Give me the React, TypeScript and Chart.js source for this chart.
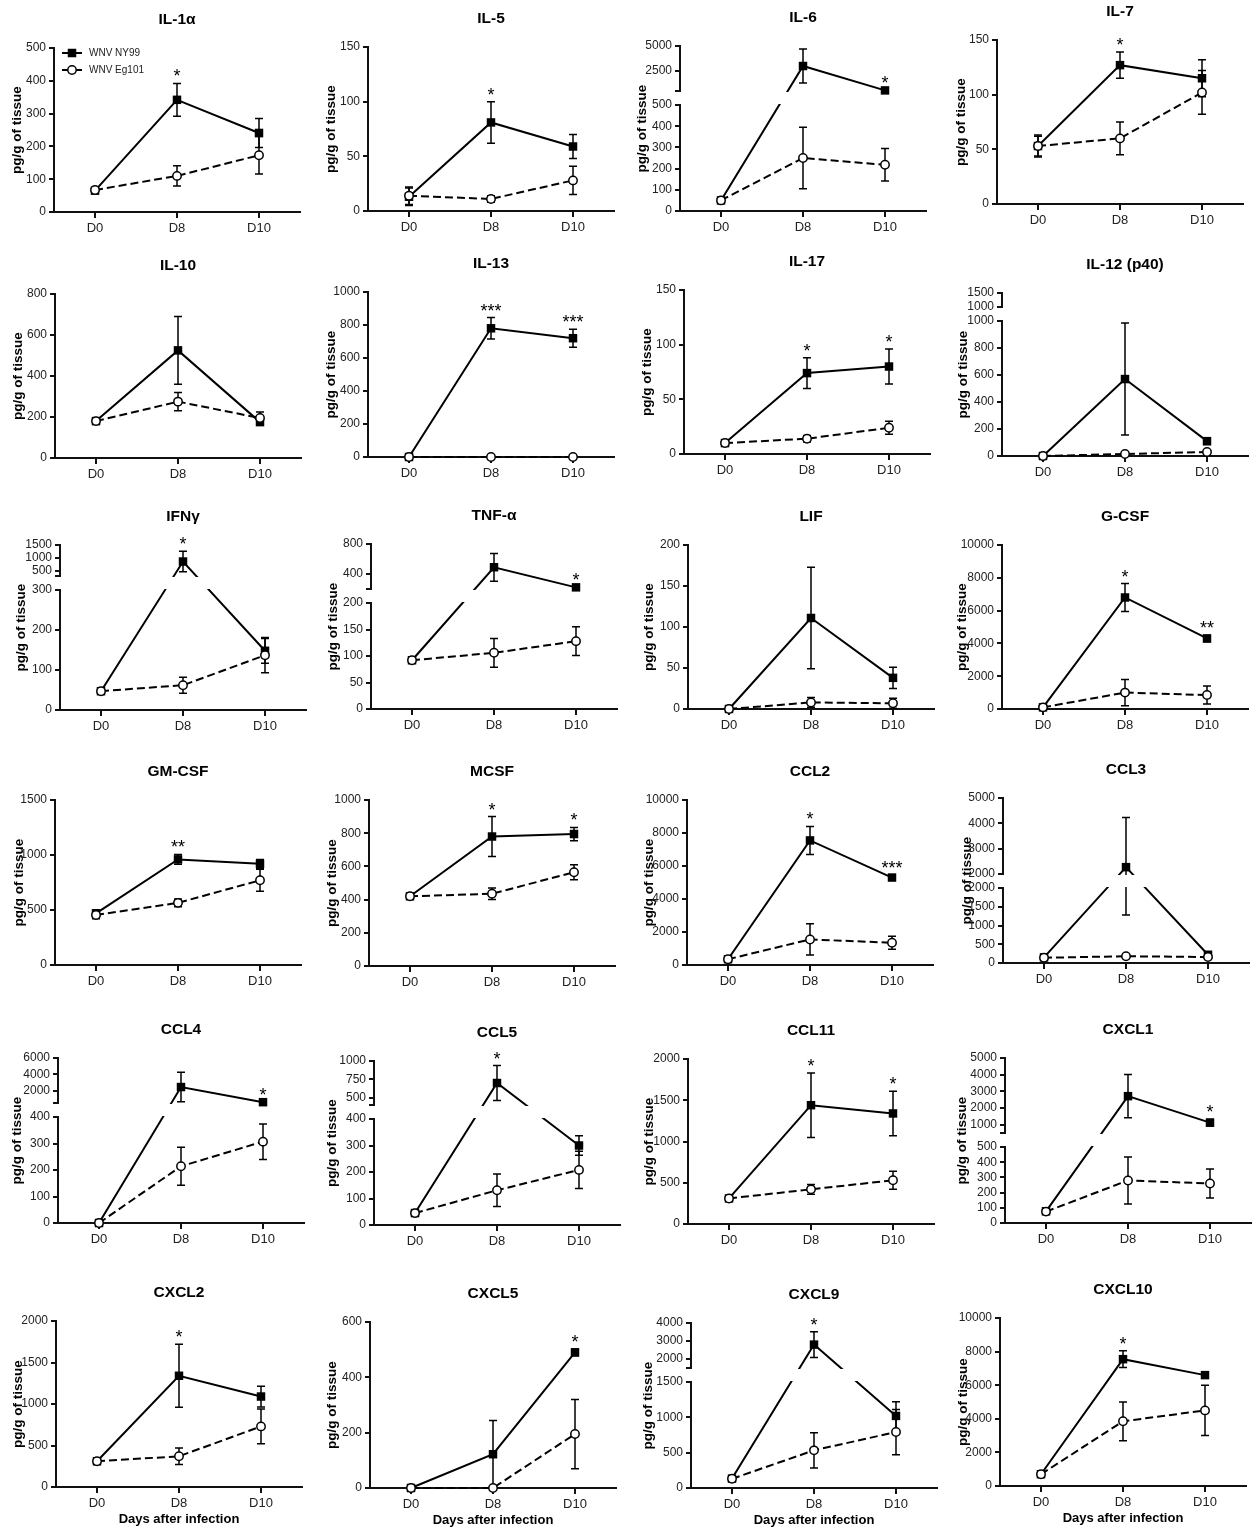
import React, { useEffect, useRef } from "react";
import { Chart, registerables } from "chart.js";

Chart.register(...registerables);

const FONT = "'Liberation Sans', Arial, Helvetica, sans-serif";
Chart.defaults.font.family = FONT;

const DAYS = ["D0", "D8", "D10"];
const SERIES_NAMES = ["WNV NY99", "WNV Eg101"];

type Err = number | [number, number];

// ---- data (mean, SEM) ----
const IL1A_NY = [65, 342, 241];
const IL1A_NY_ERR: Err[] = [4, 50, 44];
const IL1A_EG = [67, 110, 173];
const IL1A_EG_ERR: Err[] = [4, 31, 57];
const IL1A_SIG = ["", "*", ""];

const IL5_NY = [13, 81, 59];
const IL5_NY_ERR: Err[] = [8, 19, 11];
const IL5_EG = [14, 11, 28];
const IL5_EG_ERR: Err[] = [8, 3, 13];
const IL5_SIG = ["", "*", ""];

const IL6_NY = [50, 3000, 560];
const IL6_NY_ERR: Err[] = [5, 1700, 40];
const IL6_EG = [50, 250, 218];
const IL6_EG_ERR: Err[] = [5, 145, 77];
const IL6_SIG = ["", "", "*"];

const IL7_NY = [53, 127, 115];
const IL7_NY_ERR: Err[] = [9, 12, 17];
const IL7_EG = [53, 60, 102];
const IL7_EG_ERR: Err[] = [10, 15, 20];
const IL7_SIG = ["", "*", ""];

const IL10_NY = [180, 525, 175];
const IL10_NY_ERR: Err[] = [8, 165, 12];
const IL10_EG = [180, 275, 195];
const IL10_EG_ERR: Err[] = [8, 45, 30];
const IL10_SIG = ["", "", ""];

const IL13_NY = [0, 780, 720];
const IL13_NY_ERR: Err[] = [0, 65, 55];
const IL13_EG = [0, 0, 0];
const IL13_EG_ERR: Err[] = [0, 0, 0];
const IL13_SIG = ["", "***", "***"];

const IL17_NY = [10, 74, 80];
const IL17_NY_ERR: Err[] = [2, 14, 16];
const IL17_EG = [10, 14, 24];
const IL17_EG_ERR: Err[] = [2, 3, 6];
const IL17_SIG = ["", "*", "*"];

const IL12_NY = [0, 570, 110];
const IL12_NY_ERR: Err[] = [0, 415, 25];
const IL12_EG = [0, 15, 30];
const IL12_EG_ERR: Err[] = [0, 5, 12];
const IL12_SIG = ["", "", ""];

const IFNG_NY = [47, 860, 148];
const IFNG_NY_ERR: Err[] = [3, 400, 31];
const IFNG_EG = [47, 62, 137];
const IFNG_EG_ERR: Err[] = [4, 20, 44];
const IFNG_SIG = ["", "*", ""];

const TNFA_NY = [92, 490, 222];
const TNFA_NY_ERR: Err[] = [3, 185, 10];
const TNFA_EG = [92, 106, 128];
const TNFA_EG_ERR: Err[] = [4, 27, 27];
const TNFA_SIG = ["", "", "*"];

const LIF_NY = [0, 111, 38];
const LIF_NY_ERR: Err[] = [0, 62, 13];
const LIF_EG = [0, 8, 7];
const LIF_EG_ERR: Err[] = [0, 6, 6];
const LIF_SIG = ["", "", ""];

const GCSF_NY = [100, 6800, 4300];
const GCSF_NY_ERR: Err[] = [40, 850, 200];
const GCSF_EG = [100, 1000, 850];
const GCSF_EG_ERR: Err[] = [40, 800, 550];
const GCSF_SIG = ["", "*", "**"];

const GMCSF_NY = [470, 960, 920];
const GMCSF_NY_ERR: Err[] = [30, 45, 40];
const GMCSF_EG = [455, 565, 770];
const GMCSF_EG_ERR: Err[] = [35, 35, 100];
const GMCSF_SIG = ["", "**", ""];

const MCSF_NY = [420, 780, 795];
const MCSF_NY_ERR: Err[] = [10, 120, 40];
const MCSF_EG = [420, 435, 565];
const MCSF_EG_ERR: Err[] = [10, 35, 45];
const MCSF_SIG = ["", "*", "*"];

const CCL2_NY = [350, 7550, 5300];
const CCL2_NY_ERR: Err[] = [80, 850, 150];
const CCL2_EG = [350, 1550, 1350];
const CCL2_EG_ERR: Err[] = [80, 950, 400];
const CCL2_SIG = ["", "*", "***"];

const CCL3_NY = [150, 2270, 220];
const CCL3_NY_ERR: Err[] = [20, [990, 1960], 30];
const CCL3_EG = [140, 180, 160];
const CCL3_EG_ERR: Err[] = [20, 30, 20];
const CCL3_SIG = ["", "", ""];

const CCL4_NY = [0, 2450, 600];
const CCL4_NY_ERR: Err[] = [0, 1800, 60];
const CCL4_EG = [0, 214, 307];
const CCL4_EG_ERR: Err[] = [0, 72, 67];
const CCL4_SIG = ["", "", "*"];

const CCL5_NY = [45, 700, 300];
const CCL5_NY_ERR: Err[] = [5, 238, 37];
const CCL5_EG = [45, 131, 208];
const CCL5_EG_ERR: Err[] = [5, 61, 70];
const CCL5_SIG = ["", "*", ""];

const CCL11_NY = [310, 1440, 1340];
const CCL11_NY_ERR: Err[] = [20, 390, 270];
const CCL11_EG = [310, 420, 530];
const CCL11_EG_ERR: Err[] = [20, 60, 110];
const CCL11_SIG = ["", "*", "*"];

const CXCL1_NY = [77, 2710, 1120];
const CXCL1_NY_ERR: Err[] = [10, 1300, 200];
const CXCL1_EG = [75, 280, 260];
const CXCL1_EG_ERR: Err[] = [10, 155, 95];
const CXCL1_SIG = ["", "", "*"];

const CXCL2_NY = [310, 1340, 1090];
const CXCL2_NY_ERR: Err[] = [20, 380, 125];
const CXCL2_EG = [310, 370, 730];
const CXCL2_EG_ERR: Err[] = [25, 100, 210];
const CXCL2_SIG = ["", "*", ""];

const CXCL5_NY = [0, 122, 490];
const CXCL5_NY_ERR: Err[] = [0, 122, 12];
const CXCL5_EG = [0, 0, 195];
const CXCL5_EG_ERR: Err[] = [0, 0, 125];
const CXCL5_SIG = ["", "", "*"];

const CXCL9_NY = [133, 2800, 1020];
const CXCL9_NY_ERR: Err[] = [15, 720, 200];
const CXCL9_EG = [130, 533, 792];
const CXCL9_EG_ERR: Err[] = [15, 250, 320];
const CXCL9_SIG = ["", "*", ""];

const CXCL10_NY = [700, 7550, 6600];
const CXCL10_NY_ERR: Err[] = [80, 500, 120];
const CXCL10_EG = [700, 3850, 4500];
const CXCL10_EG_ERR: Err[] = [80, 1150, 1500];
const CXCL10_SIG = ["", "*", ""];

// ---- panel layout ----
const GAP = 14;
const PLOT_W = 248;
const PAD_TOP = 46;

type Brk = { lowMax: number; lowStep: number; upMin: number; upMax: number; upTicks: number[]; upH: number };
type Panel = {
  title: string;
  ny: number[]; nyErr: Err[]; eg: number[]; egErr: Err[]; sig: string[];
  axisX: number; top: number; zero: number; titleX: number;
  yMax?: number; step?: number; brk?: Brk; legend?: boolean; xTitle?: boolean;
};

const PANELS: Panel[] = [
  { title: "IL-1α", ny: IL1A_NY, nyErr: IL1A_NY_ERR, eg: IL1A_EG, egErr: IL1A_EG_ERR, sig: IL1A_SIG, axisX: 54, top: 48, zero: 212, titleX: 17, yMax: 500, step: 100, legend: true },
  { title: "IL-5", ny: IL5_NY, nyErr: IL5_NY_ERR, eg: IL5_EG, egErr: IL5_EG_ERR, sig: IL5_SIG, axisX: 368, top: 47, zero: 211, titleX: 331, yMax: 150, step: 50 },
  { title: "IL-6", ny: IL6_NY, nyErr: IL6_NY_ERR, eg: IL6_EG, egErr: IL6_EG_ERR, sig: IL6_SIG, axisX: 680, top: 46, zero: 211, titleX: 642, brk: { lowMax: 500, lowStep: 100, upMin: 500, upMax: 5000, upTicks: [2500, 5000], upH: 45 } },
  { title: "IL-7", ny: IL7_NY, nyErr: IL7_NY_ERR, eg: IL7_EG, egErr: IL7_EG_ERR, sig: IL7_SIG, axisX: 997, top: 40, zero: 204, titleX: 961, yMax: 150, step: 50 },

  { title: "IL-10", ny: IL10_NY, nyErr: IL10_NY_ERR, eg: IL10_EG, egErr: IL10_EG_ERR, sig: IL10_SIG, axisX: 55, top: 294, zero: 458, titleX: 18, yMax: 800, step: 200 },
  { title: "IL-13", ny: IL13_NY, nyErr: IL13_NY_ERR, eg: IL13_EG, egErr: IL13_EG_ERR, sig: IL13_SIG, axisX: 368, top: 292, zero: 457, titleX: 331, yMax: 1000, step: 200 },
  { title: "IL-17", ny: IL17_NY, nyErr: IL17_NY_ERR, eg: IL17_EG, egErr: IL17_EG_ERR, sig: IL17_SIG, axisX: 684, top: 290, zero: 454, titleX: 647, yMax: 150, step: 50 },
  { title: "IL-12 (p40)", ny: IL12_NY, nyErr: IL12_NY_ERR, eg: IL12_EG, egErr: IL12_EG_ERR, sig: IL12_SIG, axisX: 1002, top: 293, zero: 456, titleX: 963, brk: { lowMax: 1000, lowStep: 200, upMin: 1000, upMax: 1500, upTicks: [1000, 1500], upH: 14 } },

  { title: "IFNγ", ny: IFNG_NY, nyErr: IFNG_NY_ERR, eg: IFNG_EG, egErr: IFNG_EG_ERR, sig: IFNG_SIG, axisX: 60, top: 545, zero: 710, titleX: 21, brk: { lowMax: 300, lowStep: 100, upMin: 300, upMax: 1500, upTicks: [500, 1000, 1500], upH: 31 } },
  { title: "TNF-α", ny: TNFA_NY, nyErr: TNFA_NY_ERR, eg: TNFA_EG, egErr: TNFA_EG_ERR, sig: TNFA_SIG, axisX: 371, top: 544, zero: 709, titleX: 333, brk: { lowMax: 200, lowStep: 50, upMin: 200, upMax: 800, upTicks: [400, 800], upH: 45 } },
  { title: "LIF", ny: LIF_NY, nyErr: LIF_NY_ERR, eg: LIF_EG, egErr: LIF_EG_ERR, sig: LIF_SIG, axisX: 688, top: 545, zero: 709, titleX: 649, yMax: 200, step: 50 },
  { title: "G-CSF", ny: GCSF_NY, nyErr: GCSF_NY_ERR, eg: GCSF_EG, egErr: GCSF_EG_ERR, sig: GCSF_SIG, axisX: 1002, top: 545, zero: 709, titleX: 962, yMax: 10000, step: 2000 },

  { title: "GM-CSF", ny: GMCSF_NY, nyErr: GMCSF_NY_ERR, eg: GMCSF_EG, egErr: GMCSF_EG_ERR, sig: GMCSF_SIG, axisX: 55, top: 800, zero: 965, titleX: 19, yMax: 1500, step: 500 },
  { title: "MCSF", ny: MCSF_NY, nyErr: MCSF_NY_ERR, eg: MCSF_EG, egErr: MCSF_EG_ERR, sig: MCSF_SIG, axisX: 369, top: 800, zero: 966, titleX: 332, yMax: 1000, step: 200 },
  { title: "CCL2", ny: CCL2_NY, nyErr: CCL2_NY_ERR, eg: CCL2_EG, egErr: CCL2_EG_ERR, sig: CCL2_SIG, axisX: 687, top: 800, zero: 965, titleX: 649, yMax: 10000, step: 2000 },
  { title: "CCL3", ny: CCL3_NY, nyErr: CCL3_NY_ERR, eg: CCL3_EG, egErr: CCL3_EG_ERR, sig: CCL3_SIG, axisX: 1003, top: 798, zero: 963, titleX: 967, brk: { lowMax: 2000, lowStep: 500, upMin: 2000, upMax: 5000, upTicks: [2000, 3000, 4000, 5000], upH: 76 } },

  { title: "CCL4", ny: CCL4_NY, nyErr: CCL4_NY_ERR, eg: CCL4_EG, egErr: CCL4_EG_ERR, sig: CCL4_SIG, axisX: 58, top: 1058, zero: 1223, titleX: 17, brk: { lowMax: 400, lowStep: 100, upMin: 500, upMax: 6000, upTicks: [2000, 4000, 6000], upH: 45 } },
  { title: "CCL5", ny: CCL5_NY, nyErr: CCL5_NY_ERR, eg: CCL5_EG, egErr: CCL5_EG_ERR, sig: CCL5_SIG, axisX: 374, top: 1061, zero: 1225, titleX: 332, brk: { lowMax: 400, lowStep: 100, upMin: 400, upMax: 1000, upTicks: [500, 750, 1000], upH: 44 } },
  { title: "CCL11", ny: CCL11_NY, nyErr: CCL11_NY_ERR, eg: CCL11_EG, egErr: CCL11_EG_ERR, sig: CCL11_SIG, axisX: 688, top: 1059, zero: 1224, titleX: 649, yMax: 2000, step: 500 },
  { title: "CXCL1", ny: CXCL1_NY, nyErr: CXCL1_NY_ERR, eg: CXCL1_EG, egErr: CXCL1_EG_ERR, sig: CXCL1_SIG, axisX: 1005, top: 1058, zero: 1223, titleX: 962, brk: { lowMax: 500, lowStep: 100, upMin: 500, upMax: 5000, upTicks: [1000, 2000, 3000, 4000, 5000], upH: 75 } },

  { title: "CXCL2", ny: CXCL2_NY, nyErr: CXCL2_NY_ERR, eg: CXCL2_EG, egErr: CXCL2_EG_ERR, sig: CXCL2_SIG, axisX: 56, top: 1321, zero: 1487, titleX: 18, yMax: 2000, step: 500, xTitle: true },
  { title: "CXCL5", ny: CXCL5_NY, nyErr: CXCL5_NY_ERR, eg: CXCL5_EG, egErr: CXCL5_EG_ERR, sig: CXCL5_SIG, axisX: 370, top: 1322, zero: 1488, titleX: 332, yMax: 600, step: 200, xTitle: true },
  { title: "CXCL9", ny: CXCL9_NY, nyErr: CXCL9_NY_ERR, eg: CXCL9_EG, egErr: CXCL9_EG_ERR, sig: CXCL9_SIG, axisX: 691, top: 1323, zero: 1488, titleX: 648, brk: { lowMax: 1500, lowStep: 500, upMin: 1500, upMax: 4000, upTicks: [2000, 3000, 4000], upH: 45 }, xTitle: true },
  { title: "CXCL10", ny: CXCL10_NY, nyErr: CXCL10_NY_ERR, eg: CXCL10_EG, egErr: CXCL10_EG_ERR, sig: CXCL10_SIG, axisX: 1000, top: 1318, zero: 1486, titleX: 963, yMax: 10000, step: 2000, xTitle: true },
];

function errParts(e: Err): [number, number] {
  return Array.isArray(e) ? e : [e, e];
}

function PanelChart({ p }: { p: Panel }) {
  const ref = useRef<HTMLCanvasElement | null>(null);
  const xH = p.xTitle ? 40 : 28;
  const yW = p.axisX - p.titleX + 12;
  const plotH = p.zero - p.top;
  const W = yW + PLOT_W + 4;
  const H = PAD_TOP + plotH + xH;

  useEffect(() => {
    if (!ref.current) return;
    const b = p.brk;
    const lowH = b ? plotH - b.upH - GAP : plotH;
    const tf = (v: number): number => {
      if (!b) return v;
      if (v <= b.lowMax) return (v / b.lowMax) * lowH;
      if (v < b.upMin) return lowH + ((v - b.lowMax) / (b.upMin - b.lowMax)) * GAP;
      return lowH + GAP + ((v - b.upMin) / (b.upMax - b.upMin)) * b.upH;
    };
    const brkTicks: { d: number; label: string }[] = [];
    if (b) {
      for (let v = 0; v <= b.lowMax + 1e-9; v += b.lowStep) brkTicks.push({ d: (v / b.lowMax) * lowH, label: String(v) });
      if (!b.upTicks.includes(b.upMin)) brkTicks.push({ d: lowH + GAP, label: "" });
      b.upTicks.forEach((u) => brkTicks.push({ d: lowH + GAP + ((u - b.upMin) / (b.upMax - b.upMin)) * b.upH, label: String(u) }));
    }

    const deco = {
      id: "deco",
      beforeDatasetDraw(chart: any, args: any) {
        if (args.index !== 1) return;
        const ctx = chart.ctx;
        const xs = chart.scales.x;
        const ys = chart.scales.y;
        ctx.save();
        ctx.strokeStyle = "#000";
        ctx.lineWidth = 1.5;
        const sets: [number[], Err[]][] = [[p.ny, p.nyErr], [p.eg, p.egErr]];
        sets.forEach(([m, e]) => {
          m.forEach((mean, i) => {
            const [dn, up] = errParts(e[i]);
            if (dn === 0 && up === 0) return;
            const x = xs.getPixelForValue(i);
            const yT = ys.getPixelForValue(tf(mean + up));
            const yB = ys.getPixelForValue(tf(Math.max(0, mean - dn)));
            ctx.beginPath();
            ctx.moveTo(x, yT);
            ctx.lineTo(x, yB);
            ctx.moveTo(x - 4, yT);
            ctx.lineTo(x + 4, yT);
            if (mean - dn > 0) {
              ctx.moveTo(x - 4, yB);
              ctx.lineTo(x + 4, yB);
            }
            ctx.stroke();
          });
        });
        if (b) {
          const ca = chart.chartArea;
          const yL = Math.round(ys.getPixelForValue(lowH));
          const yU = Math.round(ys.getPixelForValue(lowH + GAP));
          ctx.fillStyle = "#fff";
          ctx.fillRect(ca.left - 3, yU + 1, ca.right - ca.left + 6, yL - yU - 2);
        }
        ctx.restore();
      },
      afterDraw(chart: any) {
        const ctx = chart.ctx;
        const ca = chart.chartArea;
        const xs = chart.scales.x;
        const ys = chart.scales.y;
        ctx.save();
        ctx.fillStyle = "#000";
        ctx.textAlign = "center";
        ctx.textBaseline = "middle";
        ctx.font = `bold 15.5px ${FONT}`;
        ctx.fillText(p.title, (ca.left + ca.right) / 2, ca.top - 28);
        ctx.font = `18px ${FONT}`;
        ctx.textBaseline = "alphabetic";
        p.sig.forEach((s, i) => {
          if (!s) return;
          const [, up] = errParts(p.nyErr[i]);
          const y = ys.getPixelForValue(tf(p.ny[i] + up));
          ctx.fillText(s, xs.getPixelForValue(i), y - 1);
        });
        if (p.legend) {
          const lx = ca.left + 8;
          const rows = [ca.top + 5, ca.top + 22];
          ctx.font = `10px ${FONT}`;
          ctx.textAlign = "left";
          ctx.textBaseline = "middle";
          rows.forEach((ry, k) => {
            ctx.strokeStyle = "#000";
            ctx.lineWidth = 2;
            ctx.beginPath();
            ctx.moveTo(lx, ry);
            ctx.lineTo(lx + 20, ry);
            ctx.stroke();
            if (k === 0) {
              ctx.fillStyle = "#000";
              ctx.fillRect(lx + 10 - 4.25, ry - 4.25, 8.5, 8.5);
            } else {
              ctx.beginPath();
              ctx.arc(lx + 10, ry, 4.2, 0, Math.PI * 2);
              ctx.fillStyle = "#fff";
              ctx.fill();
              ctx.lineWidth = 1.5;
              ctx.stroke();
            }
            ctx.fillStyle = "#222";
            ctx.fillText(SERIES_NAMES[k], lx + 27, ry + 0.5);
          });
        }
        ctx.restore();
      },
    };

    const yTicks: any = {
      font: { size: 12 },
      color: "#222",
      padding: 3,
      autoSkip: false,
    };
    const yScale: any = {
      type: "linear",
      position: "left",
      min: 0,
      grid: { display: true, drawOnChartArea: false, drawTicks: true, tickLength: 5, lineWidth: 2, color: "#111" },
      border: { display: true, width: 2, color: "#111" },
      title: { display: true, text: "pg/g of tissue", font: { size: 13.5, weight: "bold" }, color: "#000", padding: { top: 4, bottom: 4 } },
      afterFit: (s: any) => {
        s.width = yW;
      },
    };
    if (b) {
      yScale.max = plotH;
      yScale.afterBuildTicks = (s: any) => {
        s.ticks = brkTicks.map((t) => ({ value: t.d }));
      };
      yScale.ticks = { ...yTicks, callback: (_v: any, i: number) => (brkTicks[i] ? brkTicks[i].label : "") };
    } else {
      yScale.max = p.yMax;
      yScale.ticks = { ...yTicks, stepSize: p.step, callback: (v: any) => String(v) };
    }

    const chart = new Chart(ref.current, {
      type: "line",
      data: {
        labels: DAYS,
        datasets: [
          {
            label: SERIES_NAMES[1],
            data: p.eg.map(tf),
            showLine: false,
            pointStyle: "circle",
            pointRadius: 4.2,
            pointBackgroundColor: "#fff",
            pointBorderColor: "#000",
            pointBorderWidth: 1.5,
            clip: false,
          } as any,
          {
            label: SERIES_NAMES[0],
            data: p.ny.map(tf),
            showLine: false,
            pointStyle: "rect",
            pointRadius: 6,
            pointBackgroundColor: "#000",
            pointBorderColor: "#000",
            pointBorderWidth: 0,
            clip: false,
          } as any,
          {
            label: SERIES_NAMES[1] + " line",
            data: p.eg.map(tf),
            borderColor: "#000",
            borderWidth: 2,
            borderDash: [8, 4],
            pointRadius: 0,
            tension: 0,
            fill: false,
            clip: false,
          } as any,
          {
            label: SERIES_NAMES[0] + " line",
            data: p.ny.map(tf),
            borderColor: "#000",
            borderWidth: 2,
            pointRadius: 0,
            tension: 0,
            fill: false,
            clip: false,
          } as any,
        ],
      },
      options: {
        responsive: false,
        animation: false,
        events: [],
        devicePixelRatio: 1,
        layout: { padding: { top: PAD_TOP, left: 0, right: 4, bottom: 0 } },
        plugins: { legend: { display: false }, tooltip: { enabled: false }, title: { display: false } },
        scales: {
          x: {
            type: "category",
            offset: true,
            grid: { display: true, drawOnChartArea: false, drawTicks: true, tickLength: 6, lineWidth: 2, color: "#111", offset: false },
            border: { display: true, width: 2, color: "#111" },
            ticks: { font: { size: 13 }, color: "#222", padding: 3, maxRotation: 0, autoSkip: false },
            title: { display: !!p.xTitle, text: "Days after infection", font: { size: 13, weight: "bold" }, color: "#000", padding: { top: 0, bottom: 0 } },
            afterFit: (s: any) => {
              s.height = xH;
            },
          } as any,
          y: yScale,
        },
      } as any,
      plugins: [deco],
    });
    return () => chart.destroy();
  }, []);

  return (
    <canvas
      ref={ref}
      width={W}
      height={H}
      style={{ position: "absolute", left: p.axisX - yW, top: p.top - PAD_TOP, width: W, height: H }}
    />
  );
}

export default function App() {
  return (
    <div style={{ position: "absolute", left: 0, top: 0, width: 1258, height: 1529, overflow: "hidden", background: "#fff" }}>
      {PANELS.map((p) => (
        <PanelChart key={p.title} p={p} />
      ))}
    </div>
  );
}
